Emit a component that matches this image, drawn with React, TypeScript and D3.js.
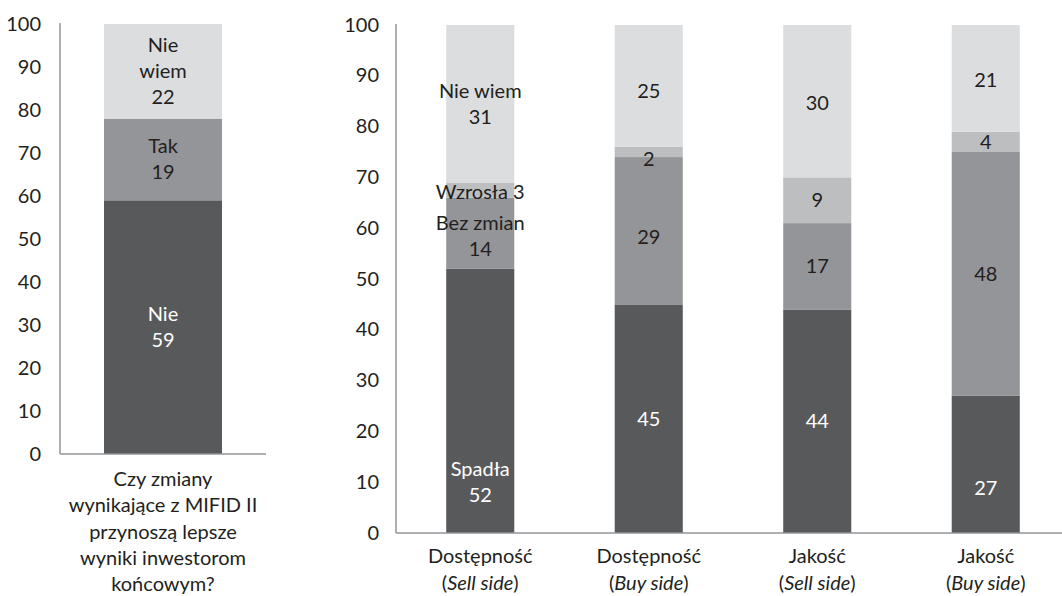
import React from "react";
import * as d3 from "d3";

// Left panel: single stacked bar
const leftQuestionLines = [
  "Czy zmiany",
  "wynikające z MIFID II",
  "przynoszą lepsze",
  "wyniki inwestorom",
  "końcowym?",
];
const leftSeries = ["Nie", "Tak", "Nie wiem"];
const leftValues = [59, 19, 22];
const leftLabels = [["Nie", "59"], ["Tak", "19"], ["Nie", "wiem", "22"]];

// Right panel: four stacked bars
const rightCategories = ["Dostępność (Sell side)", "Dostępność (Buy side)", "Jakość (Sell side)", "Jakość (Buy side)"];
const rightCatMain = ["Dostępność", "Dostępność", "Jakość", "Jakość"];
const rightCatSide = ["Sell side", "Buy side", "Sell side", "Buy side"];
const rightSeries = ["Spadła", "Bez zmian", "Wzrosła", "Nie wiem"];
const spadla = [52, 45, 44, 27];
const bezZmian = [14, 29, 17, 48];
const wzrosla = [3, 2, 9, 4];
const nieWiem = [31, 25, 30, 21];

const yTicks = [0, 10, 20, 30, 40, 50, 60, 70, 80, 90, 100];

const COLORS = ["#58595b", "#939598", "#bcbec0", "#dcdddf"];
const LEFT_COLORS = ["#58595b", "#939598", "#dcdddf"];
const TEXT = "#231f20";
const AXIS = "#939598";
const FONT = "Lato, 'Open Sans', sans-serif";
const FS = 20;
const LINE = 26;

// Vertical nudges (px) for a few in-bar labels, [bar][series]
const labelNudge: number[][] = [
  [81, 3, 2, 0],
  [0, 6, 7, 5],
  [0, 0, 0, 2],
  [24, 0, 0, 2],
];

function LabelBlock({ x, cy, lines, fill }: { x: number; cy: number; lines: string[]; fill: string }) {
  const top = cy - ((lines.length - 1) * LINE) / 2;
  return (
    <text x={x} textAnchor="middle" fill={fill} fontFamily={FONT} fontSize={FS}>
      {lines.map((l, i) => (
        <tspan key={i} x={x} y={top + i * LINE + FS * 0.35}>
          {l}
        </tspan>
      ))}
    </text>
  );
}

export default function App() {
  const W = 1062;
  const H = 596;

  // ----- left panel scales -----
  const yL = d3.scaleLinear().domain([0, 100]).range([454, 24]);
  const xL = d3.scaleBand<string>().domain(["q"]).range([60, 266]).paddingInner(0.2716).paddingOuter(0.2716);
  const leftStacked = leftValues.reduce<{ y0: number; y1: number }[]>((acc, v, i) => {
    const y0 = i === 0 ? 0 : acc[i - 1].y1;
    acc.push({ y0, y1: y0 + v });
    return acc;
  }, []);

  // ----- right panel scales -----
  const yR = d3.scaleLinear().domain([0, 100]).range([533, 25]);
  const xR = d3
    .scaleBand<string>()
    .domain(rightCategories)
    .range([396, 1070])
    .paddingInner(0.596)
    .paddingOuter(0.298);

  const rows = rightCategories.map((c, i) => ({
    cat: c,
    "Spadła": spadla[i],
    "Bez zmian": bezZmian[i],
    "Wzrosła": wzrosla[i],
    "Nie wiem": nieWiem[i],
  }));
  const stack = d3.stack<any>().keys(rightSeries)(rows);

  const rightLabel = (bar: number, s: number, v: number): string[] => {
    if (bar !== 0) return [String(v)];
    if (s === 2) return [`${rightSeries[s]} ${v}`];
    return [rightSeries[s], String(v)];
  };

  return (
    <div style={{ position: "fixed", left: 0, top: 0 }}>
      <svg width={W} height={H} style={{ display: "block", background: "#fff" }}>
        <defs>
          <clipPath id="plotR">
            <rect x={396} y={yR(100)} width={W - 396} height={yR(0) - yR(100) + 2} />
          </clipPath>
        </defs>

        {/* Left panel */}
        <g>
          {yTicks.map((t) => (
            <text key={t} x={41} y={yL(t) + FS * 0.33} textAnchor="end" fill={TEXT} fontFamily={FONT} fontSize={FS}>
              {t}
            </text>
          ))}
          {leftStacked.map((s, i) => (
            <rect
              key={leftSeries[i]}
              x={xL("q")}
              width={xL.bandwidth()}
              y={yL(s.y1)}
              height={yL(s.y0) - yL(s.y1)}
              fill={LEFT_COLORS[i]}
            />
          ))}
          {leftStacked.map((s, i) => (
            <LabelBlock
              key={"l" + i}
              x={(xL("q") as number) + xL.bandwidth() / 2}
              cy={yL((s.y0 + s.y1) / 2)}
              lines={leftLabels[i]}
              fill={i === 0 ? "#ffffff" : TEXT}
            />
          ))}
          <line x1={60} x2={60} y1={yL(100) - 1} y2={yL(0)} stroke={AXIS} strokeWidth={1.5} />
          <line x1={60} x2={266} y1={yL(0)} y2={yL(0)} stroke={AXIS} strokeWidth={1.5} />
          <text textAnchor="middle" fill={TEXT} fontFamily={FONT} fontSize={FS}>
            {leftQuestionLines.map((l, i) => (
              <tspan key={i} x={(xL("q") as number) + xL.bandwidth() / 2} y={486 + i * 26.3}>
                {l}
              </tspan>
            ))}
          </text>
        </g>

        {/* Right panel */}
        <g>
          {yTicks.map((t) => (
            <text key={t} x={379} y={yR(t) + FS * 0.33} textAnchor="end" fill={TEXT} fontFamily={FONT} fontSize={FS}>
              {t}
            </text>
          ))}
          <g clipPath="url(#plotR)">
            {stack.map((layer, s) =>
              layer.map((d, b) => (
                <rect
                  key={`${s}-${b}`}
                  x={xR(rightCategories[b])}
                  width={xR.bandwidth()}
                  y={yR(d[1])}
                  height={yR(d[0]) - yR(d[1])}
                  fill={COLORS[s]}
                />
              ))
            )}
          </g>
          {stack.map((layer, s) =>
            layer.map((d, b) => {
              const v = d[1] - d[0];
              const top = Math.min(d[1], 100);
              return (
                <LabelBlock
                  key={`t${s}-${b}`}
                  x={(xR(rightCategories[b]) as number) + xR.bandwidth() / 2}
                  cy={yR((d[0] + top) / 2) + labelNudge[b][s]}
                  lines={rightLabel(b, s, v)}
                  fill={s === 0 ? "#ffffff" : TEXT}
                />
              );
            })
          )}
          <line x1={396} x2={396} y1={yR(100) - 1} y2={yR(0)} stroke={AXIS} strokeWidth={1.5} />
          <line x1={396} x2={1070} y1={yR(0)} y2={yR(0)} stroke={AXIS} strokeWidth={1.5} />
          {rightCategories.map((c, i) => {
            const cx = (xR(c) as number) + xR.bandwidth() / 2;
            return (
              <text key={c} textAnchor="middle" fill={TEXT} fontFamily={FONT} fontSize={FS}>
                <tspan x={cx} y={563}>
                  {rightCatMain[i]}
                </tspan>
                <tspan x={cx} y={590}>
                  (<tspan fontStyle="italic">{rightCatSide[i]}</tspan>)
                </tspan>
              </text>
            );
          })}
        </g>
      </svg>
    </div>
  );
}
